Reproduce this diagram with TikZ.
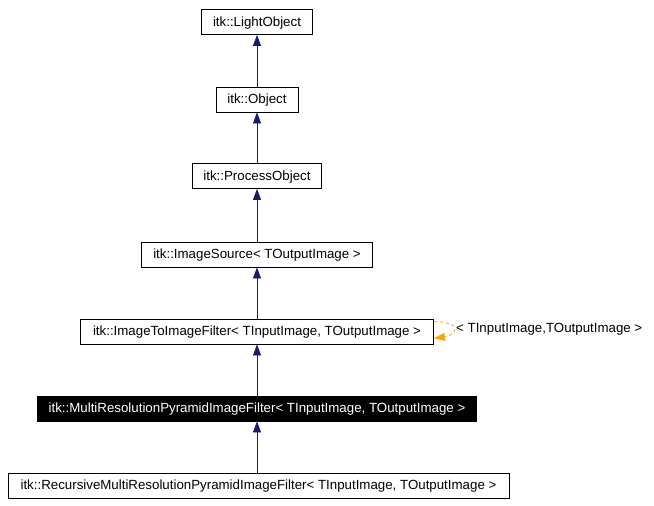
\documentclass[tikz,border=0pt]{standalone}
\usepackage{fontspec}
\setmainfont{Liberation Sans}
\usetikzlibrary{arrows.meta,positioning}

\begin{document}
\begin{tikzpicture}[x=1pt,y={(0,-1pt)},>={Triangle[length=11pt,width=8pt]},every node/.style={font=\fontsize{13.3}{15}\selectfont}]
\tikzset{cls/.style={draw,thick,minimum height=25pt,inner sep=0pt,text depth=1pt},
  inh/.style={<-,draw={rgb,255:red,25;green,25;blue,112},thick},
  tmpl/.style={->,draw={rgb,255:red,255;green,165;blue,0},dashed,thick}}
\useasboundingbox (0,0) rectangle (654,506);
\node[cls,minimum width=111pt] (light) at (257,22) {itk::LightObject};
\node[cls,minimum width=82pt] (obj) at (257,99.5) {itk::Object};
\node[cls,minimum width=129pt] (proc) at (257,176) {itk::ProcessObject};
\node[cls,minimum width=231pt] (src) at (257,254.5) {itk::ImageSource< TOutputImage >};
\node[cls,minimum width=353pt] (i2i) at (257,331.5) {itk::ImageToImageFilter< TInputImage, TOutputImage >};
\node[cls,fill=black,text=white,minimum width=439pt] (multi) at (257,408.5) {itk::MultiResolutionPyramidImageFilter< TInputImage, TOutputImage >};
\node[cls,minimum width=501pt] (rec) at (258.5,485.5) {itk::RecursiveMultiResolutionPyramidImageFilter< TInputImage, TOutputImage >};
\draw[inh] (light) -- (obj);
\draw[inh] (obj) -- (proc);
\draw[inh] (proc) -- (src);
\draw[inh] (src) -- (i2i);
\draw[inh] (i2i) -- (multi);
\draw[inh] (multi.south) -- (multi.south |- rec.north);
% template self-link
\coordinate (bend) at (455,329);
\draw[tmpl] ([yshift=-3pt]i2i.north east) .. controls (446,322) and (455,324) .. (bend) .. controls (455,333) and (450,336) .. ([yshift=6pt]i2i.south east);
\node[anchor=west,inner sep=1pt] (targ) at (bend) {< TInputImage,TOutputImage >};
\end{tikzpicture}
\end{document}
